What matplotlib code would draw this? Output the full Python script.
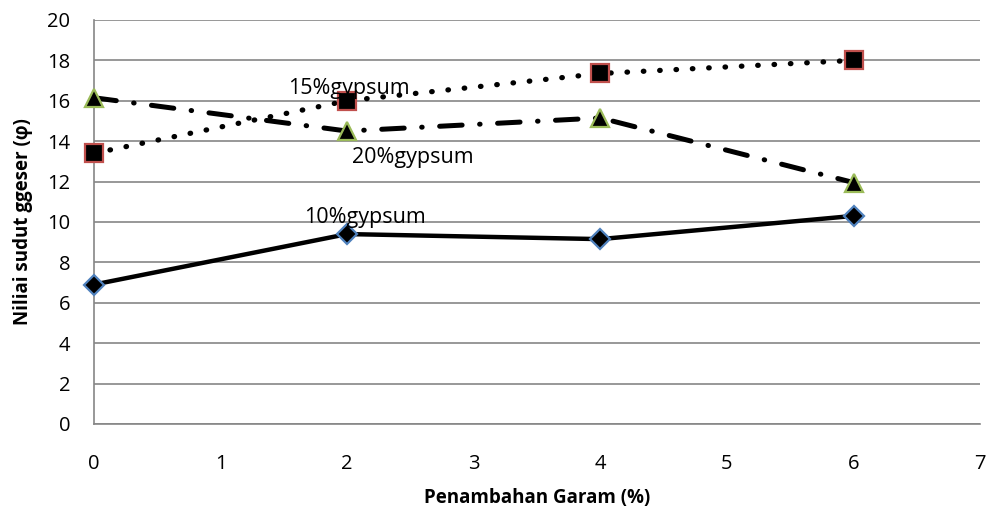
import matplotlib
matplotlib.use("Agg")
import matplotlib.pyplot as plt

# data
garam = [0, 2, 4, 6]
gyp10 = [6.9, 9.4, 9.15, 10.3]
gyp15 = [13.4, 16.0, 17.35, 18.0]
gyp20 = [16.15, 14.5, 15.15, 11.95]

plt.rcParams['font.family'] = ['Open Sans', 'DejaVu Sans']

fig = plt.figure(figsize=(9.88, 5.12), dpi=100, facecolor="white")
ax = fig.add_axes([0.0951, 0.172, 0.897, 0.789])

ax.plot(garam, gyp10, color="black", lw=3.2, solid_capstyle="round",
        marker="D", ms=10, mfc="black", mec="#4F81BD", mew=1.6, zorder=3,
        clip_on=False)
ax.plot(garam, gyp15, color="black", lw=3.8, linestyle=(0, (0.1, 3.0)),
        dash_capstyle="round", marker="s", ms=13, mfc="black", mec="#C0504D",
        mew=1.6, zorder=3, clip_on=False)
ax.plot(garam, gyp20, color="black", lw=3.6, linestyle=(0, (4.5, 3.5, 0.1, 3.5)),
        dash_capstyle="round", marker="^", ms=13, mfc="black", mec="#9BBB59",
        mew=1.6, zorder=3, clip_on=False)

ax.text(1.53, 16.6, "15%gypsum", fontsize=15.5, va="center", ha="left")
ax.text(2.04, 13.2, "20%gypsum", fontsize=15.5, va="center", ha="left")
ax.text(1.66, 10.2, "10%gypsum", fontsize=15.5, va="center", ha="left")

ax.set_xlim(0, 7)
ax.set_ylim(0, 20)
ax.set_xticks(range(0, 8))
ax.set_yticks(range(0, 21, 2))
ax.grid(axis="y", color="#868686", lw=1.2)
ax.set_axisbelow(True)
for s in ["top", "right"]:
    ax.spines[s].set_visible(False)
for s in ["left", "bottom"]:
    ax.spines[s].set_color("#868686")
    ax.spines[s].set_linewidth(1.2)
ax.tick_params(length=0, labelsize=14.5, pad=22)
ax.tick_params(axis="y", pad=17)

ax.set_xlabel("Penambahan Garam (%)", fontsize=13.5, fontweight="bold", labelpad=10)
ax.set_ylabel("Niliai sudut ggeser (\u03c6)", fontsize=13.5, fontweight="bold", labelpad=10)

fig.savefig("out.png", dpi=100)
